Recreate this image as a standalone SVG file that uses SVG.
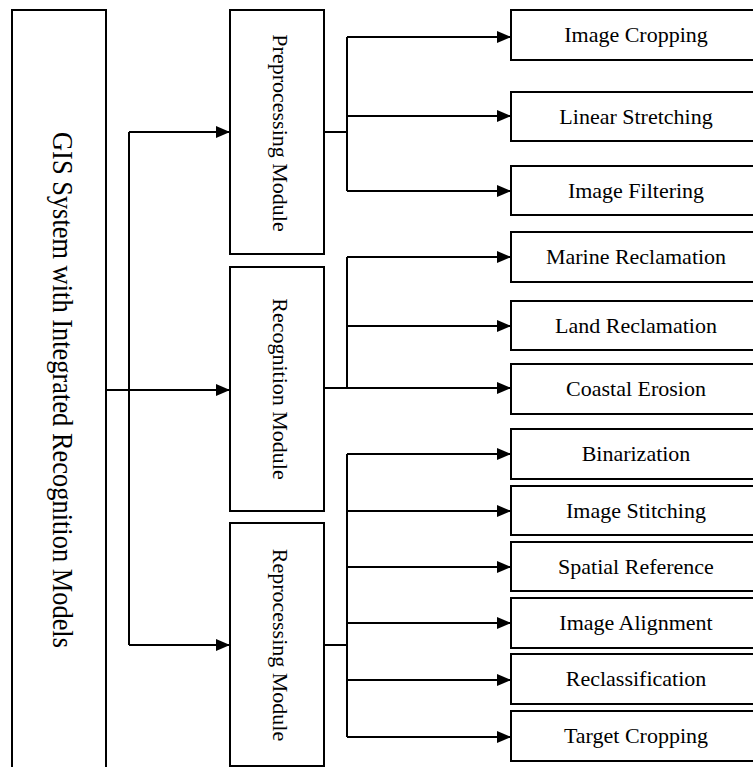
<svg xmlns="http://www.w3.org/2000/svg" width="753" height="767" viewBox="0 0 753 767">
<style>
.box{fill:#fff;stroke:#000;stroke-width:2}
.ln{fill:none;stroke:#000;stroke-width:2}
.t{font-family:"Liberation Serif","Times New Roman",serif;font-size:22px;fill:#000;text-anchor:middle}
.big{font-size:30px}
</style>
<defs>
<marker id="ah" viewBox="0 0 14 12" refX="14" refY="6" markerWidth="14" markerHeight="12" markerUnits="userSpaceOnUse" orient="auto">
<path d="M0,0 L14,6 L0,12 Z" fill="#000"/>
</marker>
</defs>
<rect width="753" height="767" fill="#fff"/>
<g id="connectors">
<path class="ln" d="M106,390 H230" marker-end="url(#ah)"/>
<path class="ln" d="M129,132 V645"/>
<path class="ln" d="M129,132 H230" marker-end="url(#ah)"/>
<path class="ln" d="M129,645 H230" marker-end="url(#ah)"/>
<path class="ln" d="M324,132 H347 M347,37 V191"/>
<path class="ln" d="M347,37 H511" marker-end="url(#ah)"/>
<path class="ln" d="M347,116 H511" marker-end="url(#ah)"/>
<path class="ln" d="M347,191 H511" marker-end="url(#ah)"/>
<path class="ln" d="M324,388 H347 M347,257 V388"/>
<path class="ln" d="M347,257 H511" marker-end="url(#ah)"/>
<path class="ln" d="M347,326 H511" marker-end="url(#ah)"/>
<path class="ln" d="M347,388 H511" marker-end="url(#ah)"/>
<path class="ln" d="M324,645 H347 M347,454 V737"/>
<path class="ln" d="M347,454 H511" marker-end="url(#ah)"/>
<path class="ln" d="M347,511 H511" marker-end="url(#ah)"/>
<path class="ln" d="M347,567 H511" marker-end="url(#ah)"/>
<path class="ln" d="M347,623 H511" marker-end="url(#ah)"/>
<path class="ln" d="M347,680 H511" marker-end="url(#ah)"/>
<path class="ln" d="M347,737 H511" marker-end="url(#ah)"/>
</g>
<g id="gis">
<rect class="box" x="12" y="10" width="94" height="770"/>
<text class="t big" transform="translate(53,390) rotate(90)" textLength="516" lengthAdjust="spacingAndGlyphs">GIS System with Integrated Recognition Models</text>
</g>
<g id="preprocessing">
<rect class="box" x="230" y="10" width="94" height="244"/>
<text class="t" transform="translate(273,133) rotate(90)">Preprocessing Module</text>
</g>
<g id="recognition">
<rect class="box" x="230" y="267" width="94" height="244"/>
<text class="t" transform="translate(273,389) rotate(90)">Recognition Module</text>
</g>
<g id="reprocessing">
<rect class="box" x="230" y="523" width="94" height="243"/>
<text class="t" transform="translate(273,645) rotate(90)">Reprocessing Module</text>
</g>
<g id="image-cropping"><rect class="box" x="511" y="10" width="250" height="50"/><text class="t" x="636" y="42">Image Cropping</text></g>
<g id="linear-stretching"><rect class="box" x="511" y="92" width="250" height="49"/><text class="t" x="636" y="124">Linear Stretching</text></g>
<g id="image-filtering"><rect class="box" x="511" y="166" width="250" height="49"/><text class="t" x="636" y="198">Image Filtering</text></g>
<g id="marine-reclamation"><rect class="box" x="511" y="232" width="250" height="50"/><text class="t" x="636" y="264">Marine Reclamation</text></g>
<g id="land-reclamation"><rect class="box" x="511" y="301" width="250" height="49"/><text class="t" x="636" y="333">Land Reclamation</text></g>
<g id="coastal-erosion"><rect class="box" x="511" y="364" width="250" height="50"/><text class="t" x="636" y="396">Coastal Erosion</text></g>
<g id="binarization"><rect class="box" x="511" y="429" width="250" height="50"/><text class="t" x="636" y="461">Binarization</text></g>
<g id="image-stitching"><rect class="box" x="511" y="486" width="250" height="49"/><text class="t" x="636" y="518">Image Stitching</text></g>
<g id="spatial-reference"><rect class="box" x="511" y="542" width="250" height="49"/><text class="t" x="636" y="574">Spatial Reference</text></g>
<g id="image-alignment"><rect class="box" x="511" y="598" width="250" height="50"/><text class="t" x="636" y="630">Image Alignment</text></g>
<g id="reclassification"><rect class="box" x="511" y="654" width="250" height="50"/><text class="t" x="636" y="686">Reclassification</text></g>
<g id="target-cropping"><rect class="box" x="511" y="711" width="250" height="50"/><text class="t" x="636" y="743">Target Cropping</text></g>
</svg>
